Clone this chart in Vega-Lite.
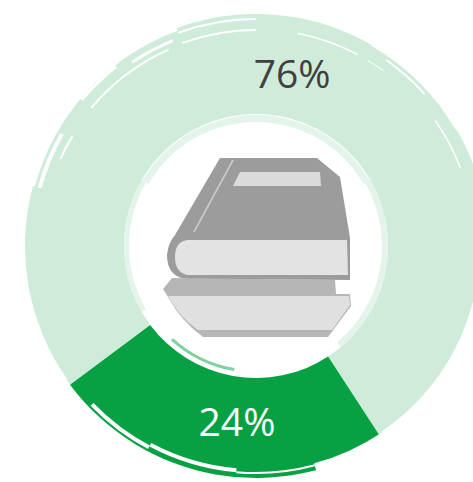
{
"$schema":"https://vega.github.io/schema/vega-lite/v6.json",
"width":473,"height":482,"padding":0,"autosize":{"type":"none"},
"background":"white","view":{"stroke":null},
"datasets":{
"share":[{"label":"Other","value":76,"text":"76%"},{"label":"Books","value":24,"text":"24%"}],
"streaks":[
{"a0":340,"a1":360,"r0":215,"r1":217,"kind":"gap"},
{"a0":326,"a1":338,"r0":220,"r1":223,"kind":"gap"},
{"a0":310,"a1":336,"r0":214,"r1":216,"kind":"gap"},
{"a0":11,"a1":28,"r0":216,"r1":217.5,"kind":"gap"},
{"a0":31,"a1":36,"r0":216,"r1":217,"kind":"gap"},
{"a0":55,"a1":69,"r0":218,"r1":219.5,"kind":"gap"},
{"a0":294,"a1":301,"r0":213,"r1":215,"kind":"gap"},
{"a0":285,"a1":300,"r0":222,"r1":226,"kind":"gap"},
{"a0":310,"a1":322,"r0":226,"r1":229,"kind":"gap"},
{"a0":340,"a1":360,"r0":226,"r1":228,"kind":"gap"},
{"a0":35,"a1":48,"r0":226,"r1":228,"kind":"gap"},
{"a0":235,"a1":285,"r0":231,"r1":240,"kind":"gap"},
{"a0":285,"a1":340,"r0":229,"r1":240,"kind":"gap"},
{"a0":0,"a1":30,"r0":233,"r1":240,"kind":"gap"},
{"a0":30,"a1":60,"r0":231,"r1":240,"kind":"gap"},
{"a0":95,"a1":146,"r0":224,"r1":240,"kind":"gap"},
{"a0":208,"a1":226,"r0":226,"r1":230,"kind":"gap"},
{"a0":185,"a1":208,"r0":223,"r1":227,"kind":"gap"},
{"a0":165,"a1":185,"r0":226,"r1":228,"kind":"gap"},
{"a0":146,"a1":165,"r0":225,"r1":240,"kind":"gap"},
{"a0":240,"a1":300,"r0":127,"r1":132,"kind":"pale"},
{"a0":300,"a1":360,"r0":124,"r1":131,"kind":"pale"},
{"a0":0,"a1":60,"r0":124,"r1":131,"kind":"pale"},
{"a0":60,"a1":140,"r0":126,"r1":132,"kind":"pale"},
{"a0":190,"a1":222,"r0":124,"r1":127,"kind":"mid"}
],
"book":[{"part":"cover"},{"part":"pages"},{"part":"label"},{"part":"spine"},{"part":"lower"},{"part":"lowerPages"}]
},
"layer":[
{"data":{"name":"share"},
 "transform":[{"stack":"value","groupby":[],"as":["v0","v1"],"sort":[{"field":"value","order":"descending"}]}],
 "mark":{"type":"arc","innerRadius":132,"outerRadius":232,"xOffset":19.5,"yOffset":5},
 "encoding":{
  "theta":{"field":"v0","type":"quantitative","stack":false,"scale":{"domain":[0,100],"range":[4.072,10.355]}},
  "theta2":{"field":"v1"},
  "color":{"field":"label","type":"nominal","legend":null,"scale":{"domain":["Other","Books"],"range":["#cfecdb","#07a143"]}}
 }},
{"data":{"name":"streaks"},
 "mark":{"type":"arc","xOffset":19.5,"yOffset":5},
 "encoding":{
  "theta":{"field":"a0","type":"quantitative","stack":false,"scale":{"domain":[0,360],"range":[0,6.28319]}},
  "theta2":{"field":"a1"},
  "radius":{"field":"r0","type":"quantitative","scale":{"domain":[0,240],"range":[0,240]}},
  "radius2":{"field":"r1"},
  "color":{"field":"kind","type":"nominal","legend":null,"scale":{"domain":["gap","pale","mid"],"range":["#ffffff","#e4f4eb","#80d0a0"]}}
 }},
{"data":{"name":"book"},
 "mark":{"type":"point","filled":true,"opacity":1,"size":4,"xOffset":19.5,"yOffset":5},
 "encoding":{
  "shape":{"field":"part","type":"nominal","legend":null,"scale":{"domain":["cover","pages","label","spine","lower","lowerPages"],
   "range":[
   "M-36,-88L61,-88L84,-69L94,-8L94,34L-69,33Q-89,31-89,9Q-88,-3-81,-11Z",
   "M-69,-6L91,-6L92,29L-69,29Q-81,26-81,11Q-81,-4-69,-6Z",
   "M-16,-74L64,-74L65,-60L-23,-60Z",
   "M-24,-86L-22,-86L-61,-14L-63,-14Z",
   "M-93,43L-84,32L79,34L80,48L94,48L95,60L72,91L-53,91Q-75,75-88,51Z",
   "M-88,50L93,50L94,59L76,84L-58,84Q-76,72-88,50Z"]}},
  "color":{"field":"part","type":"nominal","legend":null,"scale":{"domain":["cover","pages","label","spine","lower","lowerPages"],"range":["#9c9c9c","#e3e3e3","#dbdbdb","#c9c9c9","#b6b6b6","#e0e0e0"]}}
 }},
{"data":{"name":"share"},
 "transform":[{"filter":"datum.label==='Other'"}],
 "mark":{"type":"text","font":"Open Sans","fontSize":39,"color":"#404040","baseline":"middle","align":"center","radius":177,"xOffset":24.5,"yOffset":9},
 "encoding":{"text":{"field":"text"},"theta":{"datum":38,"type":"quantitative","scale":{"domain":[0,100],"range":[4.072,10.355]}}}},
{"data":{"name":"share"},
 "transform":[{"filter":"datum.label==='Books'"}],
 "mark":{"type":"text","font":"Open Sans","fontSize":39,"color":"#ffffff","baseline":"middle","align":"center","radius":177,"xOffset":31.5,"yOffset":9},
 "encoding":{"text":{"field":"text"},"theta":{"datum":88,"type":"quantitative","scale":{"domain":[0,100],"range":[4.072,10.355]}}}}
],
"resolve":{"scale":{"theta":"independent","color":"independent","radius":"independent"}}
}
